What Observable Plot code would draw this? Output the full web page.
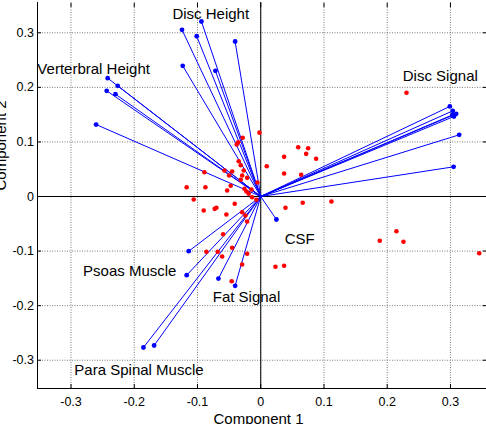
<!DOCTYPE html>
<html>
<head>
<meta charset="utf-8">
<script src="https://cdn.jsdelivr.net/npm/d3@7"></script>
<script src="https://cdn.jsdelivr.net/npm/@observablehq/plot@0.6"></script>
<style>
  html, body { margin: 0; padding: 0; background: #fff; overflow: hidden; }
  #chart { width: 486px; height: 424px; }
</style>
</head>
<body>
<div id="chart"></div>
<script>
// Axis domains and ticks
const xDomain = [-0.353, 0.357];
const yDomain = [-0.3518, 0.3555];
const xTicks = [-0.3, -0.2, -0.1, 0, 0.1, 0.2, 0.3];
const yTicks = [-0.3, -0.2, -0.1, 0, 0.1, 0.2, 0.3];

// Variable loadings (blue vectors)
const loadX = [-0.0938, -0.1245, -0.1012, -0.0405, -0.1234, -0.0717, -0.2420, -0.2262, -0.2436, -0.2298, -0.2604,
               0.299, 0.3037, 0.309, 0.3030, 0.3055, 0.3138, 0.305,
               -0.1139, -0.1171, -0.0669, -0.0405, -0.1855, -0.1686, 0.0248];
const loadY = [0.3207, 0.3055, 0.2937, 0.2840, 0.2395, 0.2303, 0.2168, 0.2029, 0.1937, 0.1875, 0.1319,
               0.165, 0.157, 0.1515, 0.1495, 0.1466, 0.113, 0.0544,
               -0.1002, -0.1442, -0.1503, -0.1636, -0.2767, -0.2730, -0.0421];

// Observation scores (red points)
const scoreX = [-0.002, -0.0285, -0.0357, -0.038, 0.0095, -0.0348, -0.0316, -0.0891, -0.0574, -0.0452,
                -0.050, -0.0269, -0.0294, -0.0215, -0.0316, -0.0052, -0.1171, -0.0875, -0.0475, -0.0531,
                -0.0258, -0.0226, -0.0147, -0.019, -0.106, -0.0902, -0.0728, -0.0701, -0.0543, -0.0411,
                -0.0294, -0.0242, -0.0215, -0.0136, -0.0068, -0.0595, -0.0859, -0.068, -0.061, -0.0452,
                -0.0215, -0.0294, -0.0459, 0.0391, 0.0664, 0.1118, 0.1882, 0.2146, 0.2257, 0.3455,
                0.0233, 0.037, 0.2305, 0.0592, 0.075, 0.0718, 0.037, 0.0876, 0.037, 0.0639];
const scoreY = [0.117, 0.1076, 0.0995, 0.0953, 0.0555, 0.0647, 0.0574, 0.0445, 0.0476, 0.0458,
                0.0385, 0.0476, 0.0385, 0.0342, 0.0306, 0.0257, 0.017, 0.017, 0.0196, 0.011,
                0.0141, 0.0092, 0.0128, 0.005, -0.0055, -0.0257, -0.0226, -0.0207, -0.033, -0.0134,
                -0.0288, -0.0348, -0.0458, -0.0013, -0.006, -0.0691, -0.1013, -0.1013, -0.11, -0.094,
                -0.105, -0.1246, -0.1552, -0.0207, -0.0115, -0.0092, -0.0812, -0.0636, -0.083, -0.1039,
                -0.1288, -0.127, 0.19, 0.0903, 0.0885, 0.0782, 0.0727, 0.0691, 0.0421, 0.0398];

// Variable group labels
const labelText = ["Disc Height", "Verterbral Height", "Disc Signal", "CSF", "Psoas Muscle", "Fat Signal", "Para Spinal Muscle"];
const labelX = [-0.1397, -0.3532, 0.2246, 0.038, -0.281, -0.0759, -0.2947];
const labelY = [0.3335, 0.234, 0.2212, -0.0782, -0.1369, -0.1845, -0.3189];

const xAxisLabel = "Component 1";
const yAxisLabel = "Component 2";

const loadings = loadX.map((x, i) => ({x, y: loadY[i]}));
const scores = scoreX.map((x, i) => ({x, y: scoreY[i]}));
const labels = labelText.map((t, i) => ({t, x: labelX[i], y: labelY[i]}));

const font = "'Liberation Sans', Arial, Helvetica, sans-serif";
const gridStyle = {stroke: "#7a7a7a", strokeOpacity: 1, strokeDasharray: "1,1.5", strokeWidth: 1};

const chart = Plot.plot({
  width: 486,
  height: 424,
  marginTop: 2,
  marginRight: 0,
  marginBottom: 36,
  marginLeft: 37,
  style: {fontFamily: font, background: "#fff"},
  x: {domain: xDomain},
  y: {domain: yDomain},
  marks: [
    Plot.gridX(xTicks, gridStyle),
    Plot.gridY(yTicks, gridStyle),
    // zero lines
    Plot.ruleX([0], {stroke: "#000", strokeWidth: 1}),
    Plot.ruleY([0], {stroke: "#000", strokeWidth: 1}),
    // left and bottom axis lines
    Plot.ruleX([xDomain[0]], {stroke: "#000", strokeWidth: 1}),
    Plot.ruleY([yDomain[0]], {stroke: "#000", strokeWidth: 1}),
    // inward tick marks on all four sides
    Plot.axisX(xTicks, {anchor: "bottom", tickSize: 4, dy: -4, text: null, label: null, stroke: "#000"}),
    Plot.axisX(xTicks, {anchor: "top", tickSize: 4, dy: 4, text: null, label: null, stroke: "#000"}),
    Plot.axisY(yTicks, {anchor: "left", tickSize: 4, dx: 4, text: null, label: null, stroke: "#000"}),
    Plot.axisY(yTicks, {anchor: "right", tickSize: 4, dx: -4, text: null, label: null, stroke: "#000"}),
    // tick labels
    Plot.axisX(xTicks, {anchor: "bottom", tickSize: 0, tickPadding: 9, label: null, fontSize: 12.5, fill: "#000", tickFormat: d => String(d)}),
    Plot.axisY(yTicks, {anchor: "left", tickSize: 0, tickPadding: 3.5, label: null, fontSize: 12.5, fill: "#000", tickFormat: d => String(d)}),
    // loading vectors
    Plot.link(loadings, {x1: () => 0, y1: () => 0, x2: "x", y2: "y", stroke: "#0000ff", strokeWidth: 1}),
    Plot.dot(loadings, {x: "x", y: "y", r: 2.4, fill: "#0000ff", stroke: null}),
    // scores
    Plot.dot(scores, {x: "x", y: "y", r: 2.3, fill: "#ff0000", stroke: null}),
    // labels
    Plot.text(labels, {x: "x", y: "y", text: "t", textAnchor: "start", lineAnchor: "middle", fontSize: 15, fill: "#000"}),
    // axis titles
    Plot.text([xAxisLabel], {frameAnchor: "bottom", text: d => d, dy: 31, dx: -3.5, lineAnchor: "middle", fontSize: 15, fill: "#000"}),
    Plot.text([yAxisLabel], {frameAnchor: "left", text: d => d, rotate: -90, dx: -36.5, dy: -5, lineAnchor: "middle", fontSize: 15, fill: "#000"})
  ]
});
document.getElementById("chart").appendChild(chart);
</script>
</body>
</html>
